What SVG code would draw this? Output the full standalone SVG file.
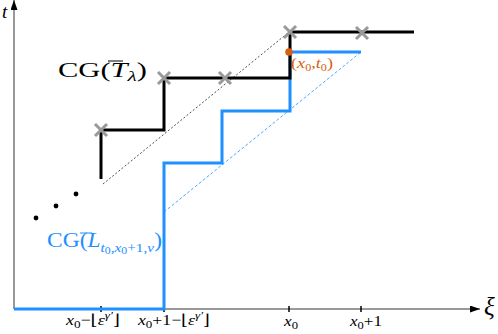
<svg xmlns="http://www.w3.org/2000/svg" width="498" height="334" viewBox="0 0 498 334">
<style>
text{font-family:"Liberation Serif","DejaVu Serif",serif;}
.it{font-style:italic;}
.blk{fill:none;stroke:#000;stroke-width:3;}
.blu{fill:none;stroke:#1e90ff;stroke-width:3;}
.cross{stroke:#999;stroke-width:3;}
.tick{stroke:#000;stroke-width:1.5;}
</style>
<defs>
<marker id="arr" viewBox="0 0 10 7" refX="10" refY="3.5" markerWidth="10" markerHeight="7" markerUnits="userSpaceOnUse" orient="auto">
<path d="M0,0 L10,3.5 L0,7 Z" fill="#000"/>
</marker>
<g id="x"><path d="M-6,-6 L6,6 M-6,6 L6,-6" class="cross"/></g>
</defs>
<g id="axes">
<line x1="14" y1="309" x2="14" y2="0" stroke="#333" stroke-width="1" marker-end="url(#arr)"/>
<line x1="14" y1="309" x2="480" y2="309" stroke="#333" stroke-width="1" marker-end="url(#arr)"/>
<line class="tick" x1="101" y1="306" x2="101" y2="312"/>
<line class="tick" x1="164" y1="306" x2="164" y2="312"/>
<line class="tick" x1="289" y1="306" x2="289" y2="312"/>
<line class="tick" x1="361" y1="306" x2="361" y2="312"/>
<text x="2" y="18" font-size="19" class="it">t</text>
<text x="484" y="315" font-size="25" class="it">ξ</text>
</g>
<g id="dashes">
<line x1="103" y1="184" x2="289" y2="32" stroke="#000" stroke-width="0.7" stroke-dasharray="2,2"/>
<line x1="164" y1="212" x2="361" y2="52" stroke="#1e90ff" stroke-width="0.8" stroke-dasharray="3,2"/>
</g>
<g id="blue-staircase">
<path class="blu" d="M14,309 H164 V163 H222 V111 H290 V52 H361"/>
</g>
<g id="black-staircase">
<path class="blk" d="M101,179 V130 H164 V78 H290 V32 H414"/>
</g>
<g id="crosses">
<use href="#x" x="101" y="130"/>
<use href="#x" x="164" y="78"/>
<use href="#x" x="225" y="78"/>
<use href="#x" x="290" y="32"/>
<use href="#x" x="362" y="33"/>
</g>
<g id="point">
<circle cx="289" cy="52" r="3.8" fill="#d95f0e"/>
<text x="291" y="68" font-size="15" fill="#d95f0e" textLength="42" lengthAdjust="spacingAndGlyphs">(<tspan class="it">x</tspan><tspan font-size="10" dy="3">0</tspan><tspan dy="-3">,</tspan><tspan class="it">t</tspan><tspan font-size="10" dy="3">0</tspan><tspan dy="-3">)</tspan></text>
</g>
<g id="dots">
<circle cx="36" cy="218" r="2.4" fill="#000"/>
<circle cx="56" cy="206" r="2.4" fill="#000"/>
<circle cx="76" cy="194" r="2.4" fill="#000"/>
</g>
<g id="label-T">
<text x="58" y="77" font-size="20" textLength="89" lengthAdjust="spacingAndGlyphs">CG(<tspan class="it">T</tspan><tspan class="it" font-size="14" dy="4">λ</tspan><tspan dy="-4">)</tspan></text>
<line x1="108" y1="61" x2="123" y2="61" stroke="#000" stroke-width="1"/>
</g>
<g id="label-L">
<text x="47" y="247" font-size="20" fill="#1e90ff" textLength="115" lengthAdjust="spacingAndGlyphs">CG(<tspan class="it">L</tspan><tspan class="it" font-size="13" dy="5">t</tspan><tspan font-size="10" dy="2">0</tspan><tspan font-size="13" dy="-2">,</tspan><tspan class="it" font-size="13">x</tspan><tspan font-size="10" dy="2">0</tspan><tspan font-size="13" dy="-2">+1,</tspan><tspan class="it" font-size="13">v</tspan><tspan dy="-5">)</tspan></text>
<line x1="80" y1="233" x2="92" y2="233" stroke="#1e90ff" stroke-width="1"/>
</g>
<g id="tick-labels">
<text x="66" y="325" font-size="15" textLength="54" lengthAdjust="spacingAndGlyphs"><tspan class="it">x</tspan><tspan font-size="11" dy="3">0</tspan><tspan dy="-3">−⌊</tspan><tspan class="it">ε</tspan><tspan class="it" font-size="11" dy="-6">γ′</tspan><tspan dy="6">⌋</tspan></text>
<text x="138" y="325" font-size="15" textLength="72" lengthAdjust="spacingAndGlyphs"><tspan class="it">x</tspan><tspan font-size="11" dy="3">0</tspan><tspan dy="-3">+1−⌊</tspan><tspan class="it">ε</tspan><tspan class="it" font-size="11" dy="-6">γ′</tspan><tspan dy="6">⌋</tspan></text>
<text x="284" y="326" font-size="15" textLength="14" lengthAdjust="spacingAndGlyphs"><tspan class="it">x</tspan><tspan font-size="11" dy="3">0</tspan></text>
<text x="350" y="326" font-size="15" textLength="32" lengthAdjust="spacingAndGlyphs"><tspan class="it">x</tspan><tspan font-size="11" dy="3">0</tspan><tspan dy="-3">+1</tspan></text>
</g>
</svg>
